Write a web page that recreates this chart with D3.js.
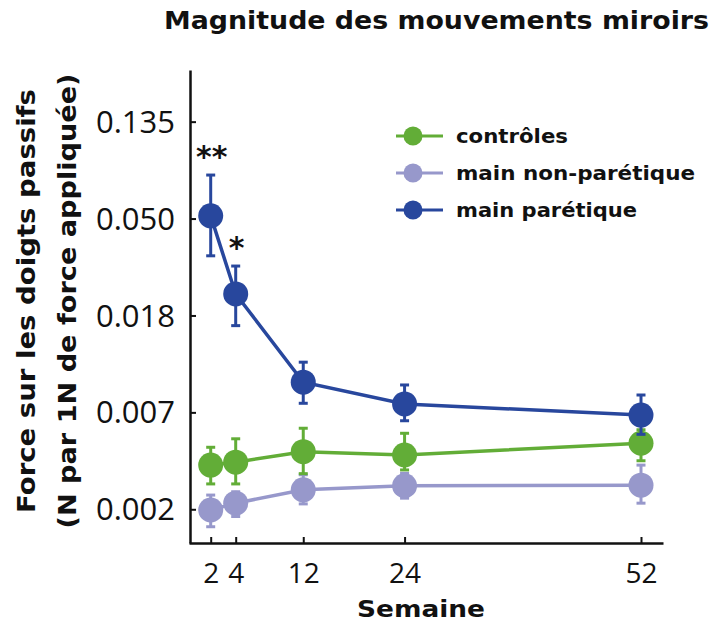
<!DOCTYPE html>
<html><head><meta charset="utf-8">
<script src="https://cdn.jsdelivr.net/npm/d3@7"></script>
<style>body{margin:0;background:#fff}svg{display:block}</style>
</head><body>
<svg id="c" width="713" height="624"></svg>
<script>
const weeks = [2, 4, 12, 24, 52];
const weekLabels = ["2", "4", "12", "24", "52"];
const legendOrder = ["contrôles", "main non-parétique", "main parétique"];
const colors = {"contrôles": "#62ad37", "main non-parétique": "#9798cb", "main parétique": "#28479d"};
const meanNonParetic = [0.00246, 0.00264, 0.00303, 0.00316, 0.00318];
const lowNonParetic  = [0.00207, 0.00230, 0.00262, 0.00278, 0.00264];
const highNonParetic = [0.00287, 0.00297, 0.00354, 0.00359, 0.00391];
const meanControls = [0.00391, 0.00403, 0.00449, 0.00434, 0.00490];
const lowControls  = [0.00322, 0.00322, 0.00358, 0.00372, 0.00409];
const highControls = [0.00470, 0.00513, 0.00572, 0.00543, 0.00563];
const meanParetic = [0.0512, 0.02287, 0.00920, 0.00735, 0.00655];
const lowParetic  = [0.0339, 0.01649, 0.00740, 0.00618, 0.00537];
const highParetic = [0.0780, 0.0305, 0.01131, 0.00894, 0.00806];
const yTickValues = [Math.exp(-2), Math.exp(-3), Math.exp(-4), Math.exp(-5), Math.exp(-6)];
const yTickLabels = ["0.135", "0.050", "0.018", "0.007", "0.002"];
const significance = [{week: 2, value: 0.0780, text: "**"}, {week: 4, value: 0.0305, text: "*"}];

const series = [
  {name: "main non-parétique", mean: meanNonParetic, low: lowNonParetic, high: highNonParetic},
  {name: "contrôles", mean: meanControls, low: lowControls, high: highControls},
  {name: "main parétique", mean: meanParetic, low: lowParetic, high: highParetic}
];

const svg = d3.select("#c");
const x = d3.scaleLinear().domain([0.26, 2, 4, 52, 54.6]).range([189, 210.7, 235.7, 641, 663]);
const y = d3.scaleLog().base(Math.E).domain([Math.exp(-6.348), Math.exp(-1.467)]).range([543, 70]);

const bold = s => s.style("font-family", "'DejaVu Sans', sans-serif").style("font-weight", "bold").attr("fill", "#111");

// axes
const xAxis = svg.append("g").attr("transform", "translate(0,543)")
  .call(d3.axisBottom(x).tickValues(weeks).tickFormat((d, i) => weekLabels[i]).tickSizeInner(-6).tickSizeOuter(0).tickPadding(20));
const yAxis = svg.append("g").attr("transform", "translate(190,0)")
  .call(d3.axisLeft(y).tickValues(yTickValues).tickFormat((d, i) => yTickLabels[i]).tickSizeInner(-6).tickSizeOuter(0).tickPadding(15));
[xAxis, yAxis].forEach(a => {
  a.select(".domain").attr("stroke", "#111").attr("stroke-width", 2.5);
  a.selectAll(".tick line").attr("stroke", "#111").attr("stroke-width", 2);
  a.selectAll(".tick text").attr("fill", "#111").style("font-family", "'Open Sans', sans-serif");
});
xAxis.selectAll(".tick text").style("font-size", "28px");
yAxis.selectAll(".tick text").style("font-size", "31px").attr("dy", "0.34em");

// series
const line = d3.line().x((d, i) => x(weeks[i])).y(d => y(d));
series.forEach(s => {
  const c = colors[s.name];
  const g = svg.append("g");
  g.append("path").datum(s.mean).attr("d", line).attr("fill", "none").attr("stroke", c).attr("stroke-width", 3.5);
  weeks.forEach((w, i) => {
    const cx = x(w);
    g.append("line").attr("x1", cx).attr("x2", cx).attr("y1", y(s.low[i])).attr("y2", y(s.high[i])).attr("stroke", c).attr("stroke-width", 3);
    [s.low[i], s.high[i]].forEach(v => {
      g.append("line").attr("x1", cx - 4.5).attr("x2", cx + 4.5).attr("y1", y(v)).attr("y2", y(v)).attr("stroke", c).attr("stroke-width", 3);
    });
    g.append("circle").attr("cx", cx).attr("cy", y(s.mean[i])).attr("r", 12.5).attr("fill", c);
  });
});

// significance
significance.forEach(d => {
  bold(svg.append("text").attr("x", x(d.week) + 1).attr("y", y(d.value) - 8).attr("text-anchor", "middle")
    .style("font-size", "30px").text(d.text));
});

// legend
const legendLengths = [112, 239, 181];
legendOrder.forEach((n, i) => {
  const ly = 136 + i * 37;
  svg.append("line").attr("x1", 396).attr("x2", 443).attr("y1", ly).attr("y2", ly).attr("stroke", colors[n]).attr("stroke-width", 3);
  svg.append("circle").attr("cx", 413).attr("cy", ly).attr("r", 9.5).attr("fill", colors[n]);
  bold(svg.append("text").attr("x", 456).attr("y", ly + 7).text(n).style("font-size", "20px"))
    .attr("textLength", legendLengths[i]).attr("lengthAdjust", "spacingAndGlyphs");
});

// titles
bold(svg.append("text").attr("x", 164).attr("y", 29).text("Magnitude des mouvements miroirs").style("font-size", "25px"))
  .attr("textLength", 545).attr("lengthAdjust", "spacingAndGlyphs");
bold(svg.append("text").attr("x", 357).attr("y", 617).text("Semaine").style("font-size", "23.5px"))
  .attr("textLength", 128).attr("lengthAdjust", "spacingAndGlyphs");
const yl = bold(svg.append("text").attr("transform", "translate(0,301) rotate(-90)").attr("text-anchor", "middle").style("font-size", "25px"));
yl.append("tspan").attr("x", 0).attr("y", 35).attr("textLength", 424).attr("lengthAdjust", "spacingAndGlyphs").text("Force sur les doigts passifs");
yl.append("tspan").attr("x", 0).attr("y", 76).attr("textLength", 455).attr("lengthAdjust", "spacingAndGlyphs").text("(N par 1N de force appliquée)");
</script>
</body></html>
